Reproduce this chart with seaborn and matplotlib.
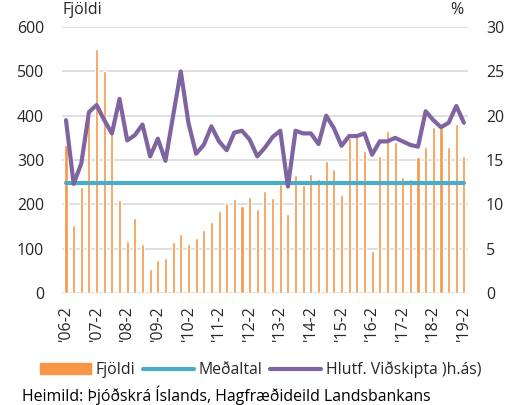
import numpy as np
import pandas as pd
import matplotlib
matplotlib.use("Agg")
import matplotlib.pyplot as plt
import seaborn as sns
from matplotlib.patches import Patch
from matplotlib.lines import Line2D

# Quarterly data, 2006 Q2 - 2019 Q2
quarters = [f"'{y % 100:02d}-{q}" for y in range(2006, 2020) for q in range(1, 5)][1:54]

fjoldi = [333, 154, 238, 410, 550, 502, 360, 210, 118, 169,
          110, 53, 73, 79, 114, 132, 110, 123, 141, 159,
          184, 202, 212, 195, 216, 189, 231, 215, 246, 177,
          265, 243, 268, 258, 297, 279, 220, 350, 362, 320,
          94, 308, 365, 341, 261, 258, 306, 330, 375, 372,
          330, 381, 308]

hlutf = [19.5, 12.3, 14.6, 20.4, 21.2, 19.5, 18.0, 21.9, 17.2, 17.8,
         19.0, 15.4, 17.4, 14.9, 20.0, 25.0, 19.2, 15.7, 16.7, 18.8,
         17.1, 16.1, 18.1, 18.3, 17.3, 15.4, 16.4, 17.6, 18.3, 12.0,
         18.3, 18.0, 18.0, 16.8, 20.0, 18.6, 16.6, 17.7, 17.7, 18.0,
         15.6, 17.1, 17.1, 17.5, 17.1, 16.7, 16.5, 20.5, 19.5, 18.7,
         19.2, 21.1, 19.2]

medaltal = [248] * len(quarters)

ORANGE = "#F79646"
TEAL = "#4BACC6"
PURPLE = "#8064A2"
GRID = "#D9D9D9"
TXT = "#262626"
FS = 11.4

sns.set_style("white")
plt.rcParams["font.family"] = ["Open Sans", "DejaVu Sans"]

df = pd.DataFrame({"q": quarters, "fjoldi": fjoldi, "hlutf": hlutf, "medal": medaltal})
df["pos"] = np.arange(len(df))

fig = plt.figure(figsize=(5.18, 4.05), dpi=100)
ax = fig.add_axes([0.12, 0.277, 0.783, 0.656])

sns.barplot(data=df, x="q", y="fjoldi", color=ORANGE, width=0.4,
            saturation=1, ax=ax, zorder=2)
sns.lineplot(data=df, x="pos", y="medal", color=TEAL, lw=3, ax=ax, zorder=3)
ax.set_ylim(0, 600)
ax.set_yticks(range(0, 601, 100))
ax.set_xlim(-0.5, len(df) - 0.5)

ax2 = ax.twinx()
sns.lineplot(data=df, x="pos", y="hlutf", color=PURPLE, lw=3, ax=ax2, zorder=4)
ax2.set_ylim(0, 30)
ax2.set_yticks(range(0, 31, 5))
ax2.set_xlim(-0.5, len(df) - 0.5)

ax.yaxis.grid(True, color=GRID, lw=1.2, zorder=0)
ax.set_axisbelow(True)
for a in (ax, ax2):
    for s in a.spines.values():
        s.set_visible(False)
    a.set_xlabel("")
    a.set_ylabel("")
    a.tick_params(length=0, labelsize=FS, colors=TXT)
ax.tick_params(axis="y", pad=13)
ax2.tick_params(axis="y", pad=13)

ax.set_xticks(df["pos"][::4])
ax.set_xticklabels(df["q"][::4], rotation=90, fontsize=FS)
ax.tick_params(axis="x", pad=9)

fig.text(0.12, 0.955, "Fjöldi", fontsize=FS, color=TXT, va="bottom", ha="left")
fig.text(0.895, 0.955, "%", fontsize=FS, color=TXT, va="bottom", ha="right")

handles = [Patch(color=ORANGE), Line2D([], [], color=TEAL, lw=3),
           Line2D([], [], color=PURPLE, lw=3)]
labels = ["Fjöldi", "Meðaltal", "Hlutf. Viðskipta )h.ás)"]
fig.legend(handles, labels, loc="center", bbox_to_anchor=(0.503, 0.087), ncol=3,
           frameon=False, fontsize=FS, handlelength=3.2, handletextpad=0.3,
           columnspacing=0.5, labelcolor=TXT)

fig.text(0.042, 0.025, "Heimild: Þjóðskrá Íslands, Hagfræðideild Landsbankans",
         fontsize=FS, color="black", va="center", ha="left")

plt.savefig("out.png", dpi=100)
